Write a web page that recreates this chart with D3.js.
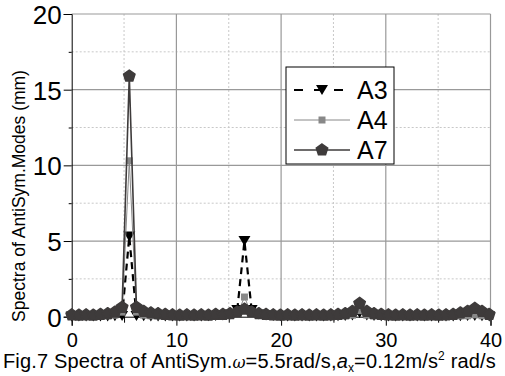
<!DOCTYPE html>
<html>
<head>
<meta charset="utf-8">
<script src="https://cdn.jsdelivr.net/npm/d3@7"></script>
<style>
  html, body { margin: 0; padding: 0; background: #fff; }
  svg text { font-family: "Liberation Sans", Arial, sans-serif; fill: #000; }
</style>
</head>
<body>
<div id="content"></div>
<script>
// frequency grid (rad/s)
var freqs = [0, 0.6875, 1.375, 2.0625, 2.75, 3.4375, 4.125, 4.8125, 5.5, 6.1875,
  6.875, 7.5625, 8.25, 8.9375, 9.625, 10.3125, 11, 11.6875, 12.375, 13.0625,
  13.75, 14.4375, 15.125, 15.8125, 16.5, 17.1875, 17.875, 18.5625, 19.25, 19.9375,
  20.625, 21.3125, 22, 22.6875, 23.375, 24.0625, 24.75, 25.4375, 26.125, 26.8125,
  27.5, 28.1875, 28.875, 29.5625, 30.25, 30.9375, 31.625, 32.3125, 33, 33.6875,
  34.375, 35.0625, 35.75, 36.4375, 37.125, 37.8125, 38.5, 39.1875, 39.875];

var a3 = [0.02, 0.02, 0.02, 0.02, 0.02, 0.02, 0.03, 0.05, 5.3, 0.05,
  0.03, 0.02, 0.02, 0.02, 0.02, 0.02, 0.02, 0.02, 0.02, 0.03,
  0.05, 0.08, 0.15, 0.45, 5.0, 0.45, 0.15, 0.08, 0.05, 0.03,
  0.02, 0.02, 0.02, 0.02, 0.02, 0.02, 0.02, 0.03, 0.05, 0.08,
  0.25, 0.08, 0.05, 0.03, 0.02, 0.02, 0.02, 0.02, 0.02, 0.02,
  0.02, 0.02, 0.02, 0.02, 0.03, 0.04, 0.05, 0.03, 0.02];

var a4 = [0.05, 0.05, 0.05, 0.05, 0.05, 0.06, 0.1, 0.3, 10.3, 0.3,
  0.1, 0.06, 0.05, 0.05, 0.05, 0.05, 0.05, 0.05, 0.05, 0.05,
  0.05, 0.06, 0.08, 0.15, 1.3, 0.15, 0.08, 0.06, 0.05, 0.05,
  0.05, 0.05, 0.05, 0.05, 0.05, 0.05, 0.05, 0.05, 0.06, 0.1,
  0.4, 0.1, 0.06, 0.05, 0.05, 0.05, 0.05, 0.05, 0.05, 0.05,
  0.05, 0.05, 0.05, 0.05, 0.05, 0.06, 0.12, 0.06, 0.05];

var a7 = [0.12, 0.1, 0.12, 0.1, 0.15, 0.2, 0.3, 0.62, 15.9, 0.62,
  0.35, 0.25, 0.2, 0.15, 0.12, 0.1, 0.12, 0.1, 0.12, 0.1,
  0.15, 0.15, 0.2, 0.3, 0.5, 0.3, 0.2, 0.15, 0.12, 0.1,
  0.12, 0.1, 0.12, 0.1, 0.12, 0.1, 0.12, 0.15, 0.2, 0.35,
  0.88, 0.35, 0.2, 0.15, 0.12, 0.1, 0.12, 0.1, 0.12, 0.1,
  0.12, 0.1, 0.12, 0.15, 0.25, 0.35, 0.55, 0.35, 0.15];

var seriesNames = ["A3", "A4", "A7"];
var xTicks = [0, 10, 20, 30, 40];
var yTicks = [0, 5, 10, 15, 20];

var width = 505, height = 376;
var margin = {top: 14, right: 14.5, bottom: 59.3, left: 71.7};
var w = width - margin.left - margin.right;
var h = height - margin.top - margin.bottom;

var svg = d3.select('#content').append("svg")
  .attr("width", width)
  .attr("height", height);

var g = svg.append("g")
  .attr("transform", "translate(" + margin.left + "," + margin.top + ")");

var x_scale = d3.scaleLinear().domain([0, 40]).range([0, w]);
var y_scale = d3.scaleLinear().domain([0, 20]).range([h, 0]);

// minor grid (dotted)
var xMinor = [5, 15, 25, 35];
var yMinor = [2.5, 7.5, 12.5, 17.5];
g.selectAll(".xminor").data(xMinor).enter().append("line")
  .attr("x1", function(d) { return x_scale(d); })
  .attr("x2", function(d) { return x_scale(d); })
  .attr("y1", 0).attr("y2", h)
  .attr("stroke", "#c8c8c8").attr("stroke-dasharray", "2,2");
g.selectAll(".yminor").data(yMinor).enter().append("line")
  .attr("x1", 0).attr("x2", w)
  .attr("y1", function(d) { return y_scale(d); })
  .attr("y2", function(d) { return y_scale(d); })
  .attr("stroke", "#c8c8c8").attr("stroke-dasharray", "2,2");

// major grid (solid)
g.selectAll(".xmajor").data(xTicks.slice(1)).enter().append("line")
  .attr("x1", function(d) { return x_scale(d); })
  .attr("x2", function(d) { return x_scale(d); })
  .attr("y1", 0).attr("y2", h)
  .attr("stroke", "#999").attr("stroke-width", 1.2);
g.selectAll(".ymajor").data(yTicks.slice(1)).enter().append("line")
  .attr("x1", 0).attr("x2", w)
  .attr("y1", function(d) { return y_scale(d); })
  .attr("y2", function(d) { return y_scale(d); })
  .attr("stroke", "#999").attr("stroke-width", 1.2);

// axes
var xAxis = g.append("g")
  .attr("transform", "translate(0," + h + ")")
  .call(d3.axisBottom(x_scale).tickValues(d3.range(0, 41, 5)).tickSize(9)
    .tickFormat(function(d) { return xTicks.indexOf(d) >= 0 ? d : ""; }));
xAxis.selectAll("text").attr("font-size", 20).attr("dy", "0.9em");
xAxis.selectAll("path, line").attr("stroke", "#000");

var yAxis = g.append("g")
  .call(d3.axisLeft(y_scale).tickValues(d3.range(0, 21, 2.5)).tickSize(8)
    .tickFormat(function(d) { return yTicks.indexOf(d) >= 0 ? d : ""; }));
yAxis.selectAll("text").attr("font-size", 26).attr("x", -10).attr("dy", "0.36em");
yAxis.selectAll("path, line").attr("stroke", "#000");
yAxis.selectAll(".tick line").attr("x2", function(d) { return yTicks.indexOf(d) >= 0 ? -8 : -3; });
xAxis.selectAll(".tick line").attr("y2", function(d) { return xTicks.indexOf(d) >= 0 ? 9 : 6; });

// markers
function pentagon(r) {
  var p = d3.path();
  for (var k = 0; k < 5; k++) {
    var a = -Math.PI / 2 + k * 2 * Math.PI / 5;
    if (k === 0) p.moveTo(r * Math.cos(a), r * Math.sin(a));
    else p.lineTo(r * Math.cos(a), r * Math.sin(a));
  }
  p.closePath();
  return p.toString();
}
var triDown = "M-6,-5L6,-5L0,5Z";
var square = "M-3.5,-3.5L3.5,-3.5L3.5,3.5L-3.5,3.5Z";

var styles = {
  A3: {values: a3, stroke: "#000", width: 2.2, dash: "7,5", marker: triDown, fill: "#000", ms: 0},
  A4: {values: a4, stroke: "#888", width: 1, dash: null, marker: square, fill: "#888", ms: 0},
  A7: {values: a7, stroke: "#3e3b3b", width: 1.6, dash: null, marker: pentagon(6), fill: "#3e3b3b", ms: 1.5}
};

var line = d3.line()
  .x(function(d) { return x_scale(d[0]); })
  .y(function(d) { return y_scale(d[1]); });

seriesNames.forEach(function(name) {
  var s = styles[name];
  var pts = freqs.map(function(f, i) { return [f, s.values[i]]; });
  var sg = g.append("g");
  sg.append("path").datum(pts)
    .attr("d", line)
    .attr("fill", "none")
    .attr("stroke", s.stroke)
    .attr("stroke-width", s.width)
    .attr("stroke-dasharray", s.dash);
  sg.selectAll("path.m").data(pts).enter().append("path")
    .attr("class", "m")
    .attr("d", s.marker)
    .attr("transform", function(d) { return "translate(" + x_scale(d[0]) + "," + y_scale(d[1]) + ")"; })
    .attr("fill", s.fill)
    .attr("stroke", s.ms ? s.fill : null)
    .attr("stroke-width", s.ms)
    .attr("stroke-linejoin", "round");
});

// legend
var lg = svg.append("g").attr("transform", "translate(286,67)");
lg.append("rect").attr("width", 108).attr("height", 97)
  .attr("fill", "#fff").attr("stroke", "#000").attr("stroke-width", 1);
seriesNames.forEach(function(name, i) {
  var s = styles[name];
  var yy = 23 + i * 30;
  lg.append("line").attr("x1", 8).attr("x2", 64).attr("y1", yy).attr("y2", yy)
    .attr("stroke", s.stroke).attr("stroke-width", s.width)
    .attr("stroke-dasharray", name === "A3" ? "9,11" : s.dash);
  lg.append("path").attr("d", s.marker)
    .attr("transform", "translate(36," + yy + ")").attr("fill", s.fill)
    .attr("stroke", s.ms ? s.fill : null).attr("stroke-width", s.ms);
  lg.append("text").attr("x", 71).attr("y", yy).attr("dy", "0.36em")
    .attr("font-size", 25).text(name);
});

// y label
svg.append("text")
  .attr("transform", "translate(25,196) rotate(-90)")
  .attr("text-anchor", "middle")
  .attr("font-size", 17.5)
  .text("Spectra of AntiSym.Modes (mm)");

// caption
var cap = svg.append("text").attr("x", 3).attr("y", 368).attr("font-size", 20)
  .attr("letter-spacing", 0.15);
cap.append("tspan").text("Fig.7 Spectra of AntiSym.");
cap.append("tspan").attr("font-style", "italic").attr("font-family", "DejaVu Serif").attr("font-size", 16).text("\u03c9");
cap.append("tspan").text("=5.5rad/s,");
cap.append("tspan").attr("font-style", "italic").text("a");
cap.append("tspan").attr("font-size", 12).attr("dy", 4).text("x");
cap.append("tspan").attr("dy", -4).text("=0.12m/s");
cap.append("tspan").attr("font-size", 12).attr("dy", -8).text("2");
cap.append("tspan").attr("dy", 8).text(" rad/s");
</script>
</body>
</html>
